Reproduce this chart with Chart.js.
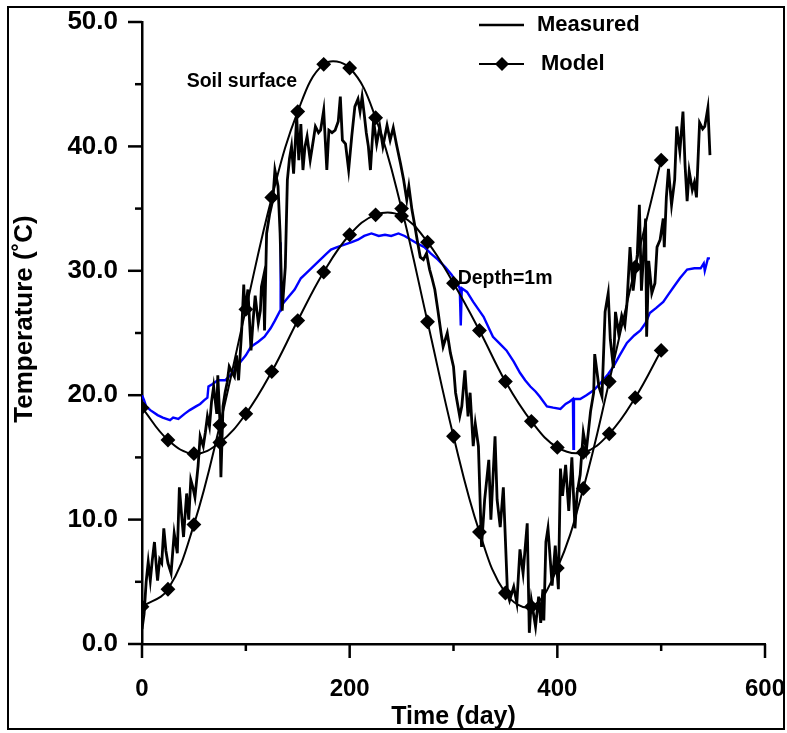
<!DOCTYPE html>
<html>
<head>
<meta charset="utf-8">
<script src="https://cdn.jsdelivr.net/npm/chart.js@4.4.0/dist/chart.umd.min.js"></script>
<style>
  html, body { margin: 0; padding: 0; background: #fff; }
  #wrap { position: relative; width: 787px; height: 733px; }
</style>
</head>
<body>
<div id="wrap"><canvas id="soilChart"></canvas></div>
<script>
// Measured soil surface temperature (daily)
var soilDays = [0,2,4,6,8,10,12,14,15,17,19,21,23,25,28,31,34,36,38,40,43,45,47,49,51,54,56,59,61,63,65,67,69,72,73,75,76,78,80,82,84,87,89,91,93,96,98,99,102,105,107,109,112,114,115,117,118,120,123,126,128,131,133,135,138,140,142,144,146,149,151,153,155,157,159,162,165,167,170,172,175,178,180,183,186,189,191,193,196,199,202,205,208,210,212,214,216,218,220,223,226,229,232,236,239,242,245,249,252,255,257,260,263,265,268,271,274,277,279,282,285,288,290,294,297,300,302,306,308,311,314,316,319,321,324,327,330,334,336,340,342,345,348,352,354,358,361,364,367,371,373,375,379,382,384,386,387,389,391,395,398,401,403,405,408,411,414,417,419,422,425,428,432,435,436,440,443,446,449,451,454,456,459,462,465,467,470,473,477,479,481,485,486,488,491,494,496,499,502,503,505,507,510,513,515,518,521,523,525,527,530,532,534,537,540,542,545,547];
var soilTemp = [1.2,2.4,5.0,6.6,5.1,6.8,8.2,6.0,5.1,6.8,6.5,9.3,7.5,6.5,5.7,8.9,7.3,12.6,10.5,8.6,12.1,10.0,13.2,12.6,11.8,14.3,16.7,15.9,17.0,18.3,17.5,19.5,20.7,18.5,21.6,18.0,13.4,19.1,20.2,21.0,22.3,21.8,21.5,23.2,21.2,25.2,28.9,26.6,28.5,23.6,26.0,28.0,25.8,26.8,28.7,29.5,25.2,33.0,34.6,35.7,38.1,36.8,33.0,26.8,30.3,37.3,39.0,40.0,37.8,42.4,38.9,41.8,38.1,40.0,40.8,38.9,40.5,41.6,41.1,41.3,42.9,38.1,41.3,41.1,41.3,42.0,44.0,40.5,40.2,38.1,40.8,43.2,43.8,42.8,44.0,42.6,41.1,40.0,38.1,42.1,40.2,41.6,40.0,41.7,40.5,41.5,40.2,38.6,37.3,35.7,36.8,34.9,33.5,32.5,31.1,30.9,31.4,30.1,29.5,28.5,26.8,25.0,23.9,25.0,23.4,22.3,20.2,18.3,19.1,22.0,18.3,20.2,15.9,17.7,15.9,7.8,11.6,14.8,10.0,16.7,11.6,9.4,12.6,4.1,3.5,4.6,3.3,7.6,5.7,9.7,0.9,3.5,1.4,3.8,1.7,4.4,1.9,8.2,9.3,4.7,7.9,4.4,14.1,11.9,14.4,10.7,15.0,9.3,12.1,13.6,17.0,15.6,18.7,20.2,23.3,20.7,19.9,26.7,28.2,24.5,22.2,26.7,25.0,26.4,25.6,27.3,31.9,28.4,31.3,35.3,28.4,34.2,24.7,30.8,28.2,29.0,31.9,32.5,34.2,31.9,35.9,38.2,35.3,37.3,41.6,39.6,42.8,38.5,35.6,38.0,36.5,37.1,35.9,41.9,41.4,41.6,43.1,39.3];

// Measured temperature at 1 m depth
var depthDays = [0,2,4,8,15,20,27,30,35,41,46,52,56,60,63,64,68,73,80,85,89,96,100,105,112,118,124,128,133,133.5,134,139,147,153,158,163,168,173,178,182,188,195,202,208,214,221,228,234,240,247,253,259,265,272,278,285,292,298,303,306,307,308,313,319,324,329,334,338,345,351,358,364,369,374,379,383,390,396,403,408,412,415,415.5,416,422,428,435,444,449,454,460,467,474,480,485,489,495,502,507,512,518,525,532,538,541,542,545,547];
var depthTemp = [20.0,19.6,19.1,18.8,18.4,18.2,18.0,18.2,18.1,18.5,18.8,19.1,19.3,19.6,19.8,20.7,20.9,21.2,21.2,21.6,22.0,22.8,23.2,23.9,24.3,24.7,25.4,26.0,26.8,32.3,27.2,27.7,28.5,29.4,29.8,30.2,30.6,31.0,31.4,31.7,31.9,32.1,32.3,32.5,32.8,33.0,32.8,32.9,32.8,33.0,32.8,32.5,32.2,31.9,31.4,30.9,30.3,29.7,29.1,28.6,25.6,28.6,28.3,27.5,26.9,26.3,25.4,24.7,24.1,23.6,22.7,21.8,21.2,20.7,20.3,19.9,19.1,19.0,18.9,19.3,19.5,19.7,15.7,19.7,19.7,20.0,20.4,21.2,21.7,22.3,23.2,24.2,24.8,25.2,25.8,26.6,27.0,27.5,28.1,28.7,29.4,30.1,30.2,30.2,30.6,30.0,31.0,31.0];

// Model results (every 25 days)
var modelDays = [0,25,50,75,100,125,150,175,200,225,250,275,300,325,350,375,400,425,450,475,500];
var soilModel = [3.0,4.4,9.6,17.6,26.9,35.9,42.8,46.6,46.3,42.3,35.0,25.9,16.7,9.0,4.1,3.0,6.1,12.5,21.1,30.3,38.9];
var depthModel = [19.0,16.4,15.3,16.2,18.5,21.9,26.0,29.9,32.9,34.5,34.4,32.3,29.0,25.2,21.1,17.9,15.8,15.4,16.9,19.8,23.6];

var yTicks = [0, 10, 20, 30, 40, 50];
var xTicks = [0, 200, 400, 600];

function pts(xs, ys) {
    return xs.map(function (x, i) { return { x: x, y: ys[i] }; });
}

var FONT = "'Liberation Sans', Arial, sans-serif";

function noOverhang(s) {
    s.paddingTop = 0; s.paddingBottom = 0; s.paddingLeft = 0; s.paddingRight = 0;
}

// tick marks, frame, legend, y title and curve labels
var extras = {
    id: 'extras',
    afterDraw: function (chart) {
        var ctx = chart.ctx, xs = chart.scales.x, ys = chart.scales.y, area = chart.chartArea;
        ctx.save();
        ctx.strokeStyle = '#000';
        ctx.fillStyle = '#000';
        ctx.lineWidth = 2.5;
        ys.ticks.forEach(function (t) {
            var py = ys.getPixelForValue(t.value);
            var len = yTicks.indexOf(t.value) >= 0 ? 14 : 7;
            ctx.beginPath(); ctx.moveTo(area.left - len, py); ctx.lineTo(area.left, py); ctx.stroke();
        });
        xs.ticks.forEach(function (t) {
            var px = xs.getPixelForValue(t.value);
            var len = xTicks.indexOf(t.value) >= 0 ? 14 : 7;
            ctx.beginPath(); ctx.moveTo(px, area.bottom); ctx.lineTo(px, area.bottom + len); ctx.stroke();
        });

        // outer frame
        ctx.lineWidth = 2;
        ctx.strokeRect(8, 7, 776, 722);

        // y axis title
        ctx.save();
        ctx.translate(25, 319);
        ctx.rotate(-Math.PI / 2);
        ctx.textAlign = 'center';
        ctx.textBaseline = 'middle';
        ctx.font = 'bold 26px ' + FONT;
        ctx.fillText('Temperature (\u02DAC)', 0, 0);
        ctx.restore();

        // legend
        ctx.textBaseline = 'middle';
        ctx.textAlign = 'left';
        ctx.font = 'bold 22px ' + FONT;
        ctx.lineWidth = 2.5;
        ctx.beginPath(); ctx.moveTo(479, 25); ctx.lineTo(524, 25); ctx.stroke();
        ctx.fillText('Measured', 537, 25);
        ctx.lineWidth = 2;
        ctx.beginPath(); ctx.moveTo(479, 64); ctx.lineTo(524, 64); ctx.stroke();
        ctx.beginPath(); ctx.moveTo(502, 57); ctx.lineTo(509, 64); ctx.lineTo(502, 71); ctx.lineTo(495, 64); ctx.closePath(); ctx.fill();
        ctx.fillText('Model', 541, 64);

        // curve labels
        ctx.font = 'bold 19.5px ' + FONT;
        ctx.textAlign = 'left';
        ctx.fillText('Soil surface', xs.getPixelForValue(43), ys.getPixelForValue(45.2));
        ctx.fillText('Depth=1m', xs.getPixelForValue(304), ys.getPixelForValue(29.4));
        ctx.restore();
    }
};

new Chart(document.getElementById('soilChart'), {
    type: 'scatter',
    data: {
        datasets: [
            { label: 'Measured soil surface', data: pts(soilDays, soilTemp), showLine: true, borderColor: '#000', borderWidth: 2.8, pointRadius: 0, tension: 0 },
            { label: 'Model soil surface', data: pts(modelDays, soilModel), showLine: true, borderColor: '#000', borderWidth: 2, tension: 0.4,
              pointStyle: 'rectRot', pointRadius: 6, pointBackgroundColor: '#000', pointBorderColor: '#000' },
            { label: 'Model depth 1m', data: pts(modelDays, depthModel), showLine: true, borderColor: '#000', borderWidth: 2, tension: 0.4,
              pointStyle: 'rectRot', pointRadius: 6, pointBackgroundColor: '#000', pointBorderColor: '#000' },
            { label: 'Measured depth 1m', data: pts(depthDays, depthTemp), showLine: true, borderColor: '#0000ff', borderWidth: 2.4, pointRadius: 0, tension: 0 }
        ]
    },
    options: {
        responsive: true, maintainAspectRatio: false, animation: false, devicePixelRatio: 1,
        layout: { padding: { left: 0, right: 22, top: 22, bottom: 1 } },
        plugins: { legend: { display: false }, tooltip: { enabled: false } },
        scales: {
            x: {
                type: 'linear', min: 0, max: 600,
                afterFit: function (s) { s.height = 88; noOverhang(s); },
                grid: { display: false, drawTicks: false },
                border: { display: true, color: '#000', width: 2.5 },
                ticks: {
                    stepSize: 100, autoSkip: false, maxRotation: 0, padding: 31, color: '#000',
                    font: { family: FONT, size: 24, weight: 'bold' },
                    callback: function (v) { return xTicks.indexOf(v) >= 0 ? String(v) : ''; }
                },
                title: { display: true, text: 'Time (day)', color: '#000', padding: { top: 0, bottom: 0 },
                         font: { family: FONT, size: 25, weight: 'bold' } }
            },
            y: {
                type: 'linear', min: 0, max: 50,
                afterFit: function (s) { s.width = 142; noOverhang(s); },
                grid: { display: false, drawTicks: false },
                border: { display: true, color: '#000', width: 2.5 },
                ticks: {
                    stepSize: 5, autoSkip: false, padding: 24, color: '#000',
                    font: { family: FONT, size: 26, weight: 'bold' },
                    callback: function (v) { return yTicks.indexOf(v) >= 0 ? v.toFixed(1) : ''; }
                },
                title: { display: false }
            }
        }
    },
    plugins: [extras]
});
</script>
</body>
</html>
